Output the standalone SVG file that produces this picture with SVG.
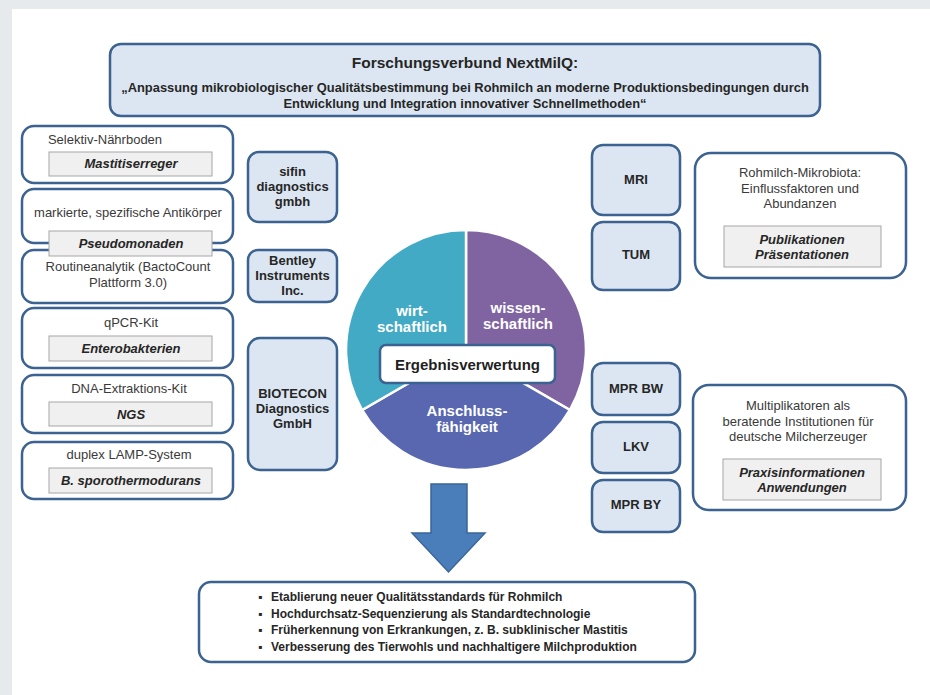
<svg xmlns="http://www.w3.org/2000/svg" width="930" height="695" viewBox="0 0 930 695">
<style>
text{font-family:"Liberation Sans",Arial,sans-serif;text-anchor:middle}
.bx{fill:#ffffff;stroke:#3b6290;stroke-width:2.5}
.co{fill:#dce6f2;stroke:#3b6290;stroke-width:2.5}
.gr{fill:#f0f0f0;stroke:#a6a6a6;stroke-width:1}
.t{font-size:13px;fill:#3a3a3a}
.tb{font-size:13px;font-weight:bold;fill:#262626}
.ti{font-size:13px;font-weight:bold;font-style:italic;fill:#262626}
.pl{font-size:15px;font-weight:bold;fill:#ffffff}
.bl{font-size:12px;font-weight:bold;fill:#262626;text-anchor:start}
</style>
<rect x="0" y="0" width="930" height="695" fill="#e7eaed"/>
<rect x="12" y="9" width="918" height="686" fill="#ffffff"/>

<g id="header">
<rect x="110" y="44" width="710" height="72" rx="11" class="co"/>
<text x="465" y="68" style="font-size:15.5px;font-weight:bold;fill:#262626">Forschungsverbund NextMilQ:</text>
<text x="465" y="92" style="font-size:12.9px;font-weight:bold;fill:#262626">„Anpassung mikrobiologischer Qualitätsbestimmung bei Rohmilch an moderne Produktionsbedingungen durch</text>
<text x="465" y="108" style="font-size:12.9px;font-weight:bold;fill:#262626">Entwicklung und Integration innovativer Schnellmethoden“</text>
</g>

<g id="left1">
<rect x="22" y="126" width="211" height="57" rx="12" class="bx"/>
<text x="105" y="144" class="t">Selektiv-Nährboden</text>
<rect x="49" y="152" width="163" height="24" class="gr"/>
<text x="131" y="168" class="ti">Mastitiserreger</text>
</g>
<g id="left3">
<rect x="22" y="250" width="211" height="53" rx="12" class="bx"/>
<text x="128" y="271" class="t">Routineanalytik (BactoCount</text>
<text x="128" y="287" class="t">Plattform 3.0)</text>
</g>
<g id="left2">
<rect x="22" y="189" width="211" height="54" rx="12" class="bx"/>
<text x="128" y="217" class="t">markierte, spezifische Antikörper</text>
<rect x="49" y="231" width="163" height="25" class="gr"/>
<text x="131" y="248" class="ti">Pseudomonaden</text>
</g>
<g id="left4">
<rect x="22" y="308" width="211" height="60" rx="12" class="bx"/>
<text x="131" y="327" class="t">qPCR-Kit</text>
<rect x="49" y="336" width="163" height="25" class="gr"/>
<text x="131" y="353" class="ti">Enterobakterien</text>
</g>
<g id="left5">
<rect x="22" y="375" width="211" height="58" rx="12" class="bx"/>
<text x="129" y="393" class="t">DNA-Extraktions-Kit</text>
<rect x="49" y="402" width="163" height="24" class="gr"/>
<text x="131" y="419" class="ti">NGS</text>
</g>
<g id="left6">
<rect x="22" y="442" width="211" height="57" rx="12" class="bx"/>
<text x="129" y="459" class="t">duplex LAMP-System</text>
<rect x="49" y="468" width="163" height="25" class="gr"/>
<text x="131" y="485" class="ti">B. sporothermodurans</text>
</g>

<g id="sifin">
<rect x="248" y="152" width="89" height="70" rx="11" class="co"/>
<text x="292.5" y="176" class="tb">sifin</text>
<text x="292.5" y="191" class="tb">diagnostics</text>
<text x="292.5" y="206" class="tb">gmbh</text>
</g>
<g id="bentley">
<rect x="248" y="250" width="89" height="52" rx="10" class="co"/>
<text x="292.5" y="265" class="tb">Bentley</text>
<text x="292.5" y="280" class="tb">Instruments</text>
<text x="292.5" y="295" class="tb">Inc.</text>
</g>
<g id="biotecon">
<rect x="248" y="338" width="89" height="132" rx="12" class="co"/>
<text x="292.5" y="398" class="tb">BIOTECON</text>
<text x="292.5" y="413" class="tb">Diagnostics</text>
<text x="292.5" y="428" class="tb">GmbH</text>
</g>

<g id="pie">
<path d="M466,350 L466,230 A120,120 0 0 1 569.9,410 Z" fill="#8064a2" stroke="#ffffff" stroke-width="2.5"/>
<path d="M466,350 L569.9,410 A120,120 0 0 1 362.1,410 Z" fill="#5867b0" stroke="#ffffff" stroke-width="2.5"/>
<path d="M466,350 L362.1,410 A120,120 0 0 1 466,230 Z" fill="#42aac5" stroke="#ffffff" stroke-width="2.5"/>
<text x="412" y="316" class="pl">wirt-</text>
<text x="412" y="332" class="pl">schaftlich</text>
<text x="518" y="313" class="pl">wissen-</text>
<text x="518" y="329" class="pl">schaftlich</text>
<text x="467" y="416" class="pl">Anschluss-</text>
<text x="467" y="432" class="pl">fähigkeit</text>
</g>
<g id="ergebnis">
<rect x="380" y="345" width="175" height="38" rx="6" fill="#ffffff" stroke="#3b6290" stroke-width="2.5"/>
<text x="467.5" y="370" style="font-size:15px;font-weight:bold;fill:#1f1f1f">Ergebnisverwertung</text>
</g>

<g id="mri">
<rect x="592" y="145" width="88" height="70" rx="11" class="co"/>
<text x="636" y="184" class="tb">MRI</text>
</g>
<g id="tum">
<rect x="592" y="222" width="88" height="68" rx="11" class="co"/>
<text x="636" y="259" class="tb">TUM</text>
</g>
<g id="right1">
<rect x="695" y="153" width="211" height="125" rx="16" class="bx"/>
<text x="800" y="177" class="t">Rohmilch-Mikrobiota:</text>
<text x="800" y="193" class="t">Einflussfaktoren und</text>
<text x="800" y="208" class="t">Abundanzen</text>
<rect x="724" y="226" width="157" height="41" class="gr"/>
<text x="802" y="244" class="ti">Publikationen</text>
<text x="802" y="259" class="ti">Präsentationen</text>
</g>

<g id="mprbw">
<rect x="592" y="363" width="88" height="52" rx="11" class="co"/>
<text x="636" y="393" class="tb">MPR BW</text>
</g>
<g id="lkv">
<rect x="592" y="422" width="88" height="51" rx="11" class="co"/>
<text x="636" y="451" class="tb">LKV</text>
</g>
<g id="mprby">
<rect x="592" y="480" width="88" height="52" rx="11" class="co"/>
<text x="636" y="509" class="tb">MPR BY</text>
</g>
<g id="right2">
<rect x="693" y="385" width="213" height="125" rx="16" class="bx"/>
<text x="798" y="410" class="t">Multiplikatoren als</text>
<text x="798" y="426" class="t">beratende Institutionen für</text>
<text x="798" y="441" class="t">deutsche Milcherzeuger</text>
<rect x="723" y="459" width="158" height="41" class="gr"/>
<text x="802" y="477" class="ti">Praxisinformationen</text>
<text x="802" y="492" class="ti">Anwendungen</text>
</g>

<g id="connectors">
<path d="M431,484 L467,484 L467,533 L485,533 L448.5,572 L412,533 L431,533 Z" fill="#4a7ebb" stroke="#3a6698" stroke-width="1.5"/>
</g>

<g id="results">
<rect x="199" y="582" width="496" height="80" rx="12" class="bx"/>
<text x="258" y="601" class="bl">▪</text>
<text x="271" y="601" class="bl">Etablierung neuer Qualitätsstandards für Rohmilch</text>
<text x="258" y="618" class="bl">▪</text>
<text x="271" y="618" class="bl">Hochdurchsatz-Sequenzierung als Standardtechnologie</text>
<text x="258" y="634" class="bl">▪</text>
<text x="271" y="634" class="bl">Früherkennung von Erkrankungen, z. B. subklinischer Mastitis</text>
<text x="258" y="651" class="bl">▪</text>
<text x="271" y="651" class="bl">Verbesserung des Tierwohls und nachhaltigere Milchproduktion</text>
</g>
</svg>
